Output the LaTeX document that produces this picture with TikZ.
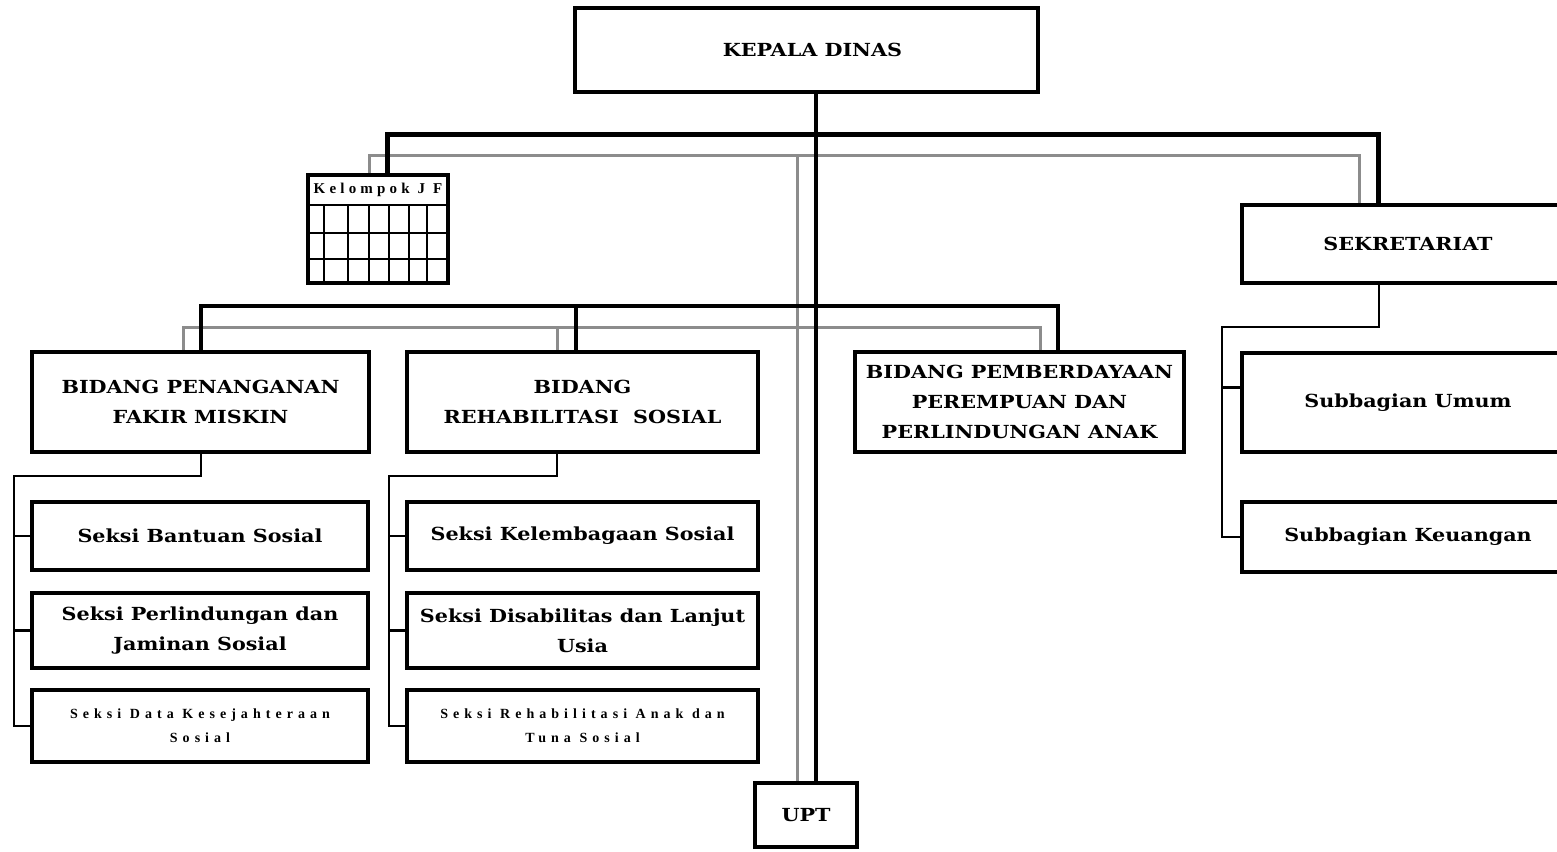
\documentclass[tikz,border=0pt]{standalone}
\usepackage{fontspec}
\usetikzlibrary{backgrounds}
\setmainfont{DejaVu Serif}[FakeStretch=1.15]
\newfontfamily\tms{Liberation Serif}[LetterSpace=36]
\newfontfamily\tmsjf{Liberation Serif}[LetterSpace=28]
\definecolor{lgray}{RGB}{140,140,140}
\begin{document}
\begin{tikzpicture}[x=1pt,y=-1pt,
  box/.style={draw, line width=4pt, fill=white, inner sep=0pt, align=center,
    font=\bfseries\fontsize{18}{30}\selectfont},
  small/.style={font=\tms\bfseries\fontsize{14}{24}\selectfont},
  main/.style={line width=5pt, line join=miter},
  main2/.style={line width=4pt, line join=miter},
  sub/.style={line width=2.5pt, line join=miter},
  gl/.style={line width=3pt, draw=lgray, line join=miter},
  gridl/.style={line width=2.5pt}]
\useasboundingbox (0,0) rectangle (1557,851);
\clip (0,0) rectangle (1557,851);
% coordinates
\coordinate (g1L) at (369,155);
\coordinate (g1R) at (1359,155);
\coordinate (gc) at (797,155);
\coordinate (g2a) at (183,327);
\coordinate (g2b) at (557,327);
\coordinate (g2c) at (1040,327);
\coordinate (b1L) at (387,134);
\coordinate (b1R) at (1378,134);
\coordinate (bc) at (816,0);
\coordinate (b2a) at (201,306);
\coordinate (b2b) at (576,306);
\coordinate (b2c) at (1058,306);
\coordinate (pt) at (201,476);
\coordinate (pl) at (14,476);
\coordinate (rt) at (557,476);
\coordinate (rl) at (389,476);
\coordinate (st) at (1379,327);
\coordinate (sl) at (1222,327);
% nodes
\node[box, line width=3.5pt, minimum width=463, minimum height=84] (kd) at (806.5,50) {\hspace*{12pt}KEPALA DINAS};
\node[draw, line width=3.5pt, fill=white, minimum width=140, minimum height=108, inner sep=0pt] (jf) at (378,229) {};
\node[box, minimum width=332, minimum height=78] (sek) at (1408,244) {SEKRETARIAT};
\node[box, minimum width=337, minimum height=100] (pen) at (200.5,402) {BIDANG PENANGANAN\\FAKIR MISKIN};
\node[box, minimum width=351, minimum height=100] (reh) at (582.5,402) {BIDANG\\REHABILITASI\ \ SOSIAL};
\node[box, minimum width=329, minimum height=100] (pem) at (1019.5,402) {BIDANG PEMBERDAYAAN\\PEREMPUAN DAN\\PERLINDUNGAN ANAK};
\node[box, minimum width=332, minimum height=99] (umum) at (1408,402.5) {Subbagian Umum};
\node[box, minimum width=332, minimum height=70] (keu) at (1408,537) {Subbagian Keuangan};
\node[box, minimum width=336, minimum height=68] (s1) at (200,536) {Seksi Bantuan Sosial};
\node[box, minimum width=336, minimum height=75] (s2) at (200,630.5) {Seksi Perlindungan dan\\Jaminan Sosial};
\node[box, line width=3.5pt, minimum width=336, minimum height=72, small] (s3) at (200,726) {Seksi Data Kesejahteraan\\Sosial};
\node[box, minimum width=351, minimum height=68] (r1) at (582.5,536) {Seksi Kelembagaan Sosial};
\node[box, minimum width=351, minimum height=75] (r2) at (582.5,630.5) {Seksi Disabilitas dan Lanjut\\Usia};
\node[box, line width=3.5pt, minimum width=351, minimum height=72, small] (r3) at (582.5,726) {Seksi Rehabilitasi Anak dan\\Tuna Sosial};
\node[box, minimum width=102, minimum height=64] (upt) at (806,815) {UPT};
\coordinate (um) at ([yshift=15pt]umum.west);
% Kelompok JF grid
\node[font=\tmsjf\bfseries\fontsize{15}{16}\selectfont] (jft) at (378,190) {Kelompok J F};
\foreach \yy in {205,233,259} \draw[gridl] (308,\yy) -- (448,\yy);
\foreach \xx in {324,348,369,389,409,427} \draw[gridl] (\xx,205) -- (\xx,285);
% connectors
\begin{scope}[on background layer]
\draw[gl] (g1L |- jf.north) -- (g1L) -- (g1R) -- (g1R |- sek.north);
\draw[gl] (gc) -- (gc |- upt.north);
\draw[gl] (g2a |- pen.north) -- (g2a) -- (g2c) -- (g2c |- pem.north);
\draw[gl] (g2b) -- (g2b |- reh.north);
\draw[main] (b1L |- jf.north) -- (b1L) -- (b1R) -- (b1R |- sek.north);
\draw[main2] (bc |- kd.south) -- (bc |- upt.north);
\draw[main2] (b2a |- pen.north) -- (b2a) -- (b2c) -- (b2c |- pem.north);
\draw[main2] (b2b) -- (b2b |- reh.north);
\draw[sub] (pt |- pen.south) -- (pt) -- (pl) -- (pl |- s3.west) -- (s3.west);
\draw[sub] (pl |- s1.west) -- (s1.west);
\draw[sub] (pl |- s2.west) -- (s2.west);
\draw[sub] (rt |- reh.south) -- (rt) -- (rl) -- (rl |- r3.west) -- (r3.west);
\draw[sub] (rl |- r1.west) -- (r1.west);
\draw[sub] (rl |- r2.west) -- (r2.west);
\draw[sub] (st |- sek.south) -- (st) -- (sl) -- (sl |- keu.west) -- (keu.west);
\draw[sub] (sl |- um) -- (um);
\end{scope}
\end{tikzpicture}
\end{document}
